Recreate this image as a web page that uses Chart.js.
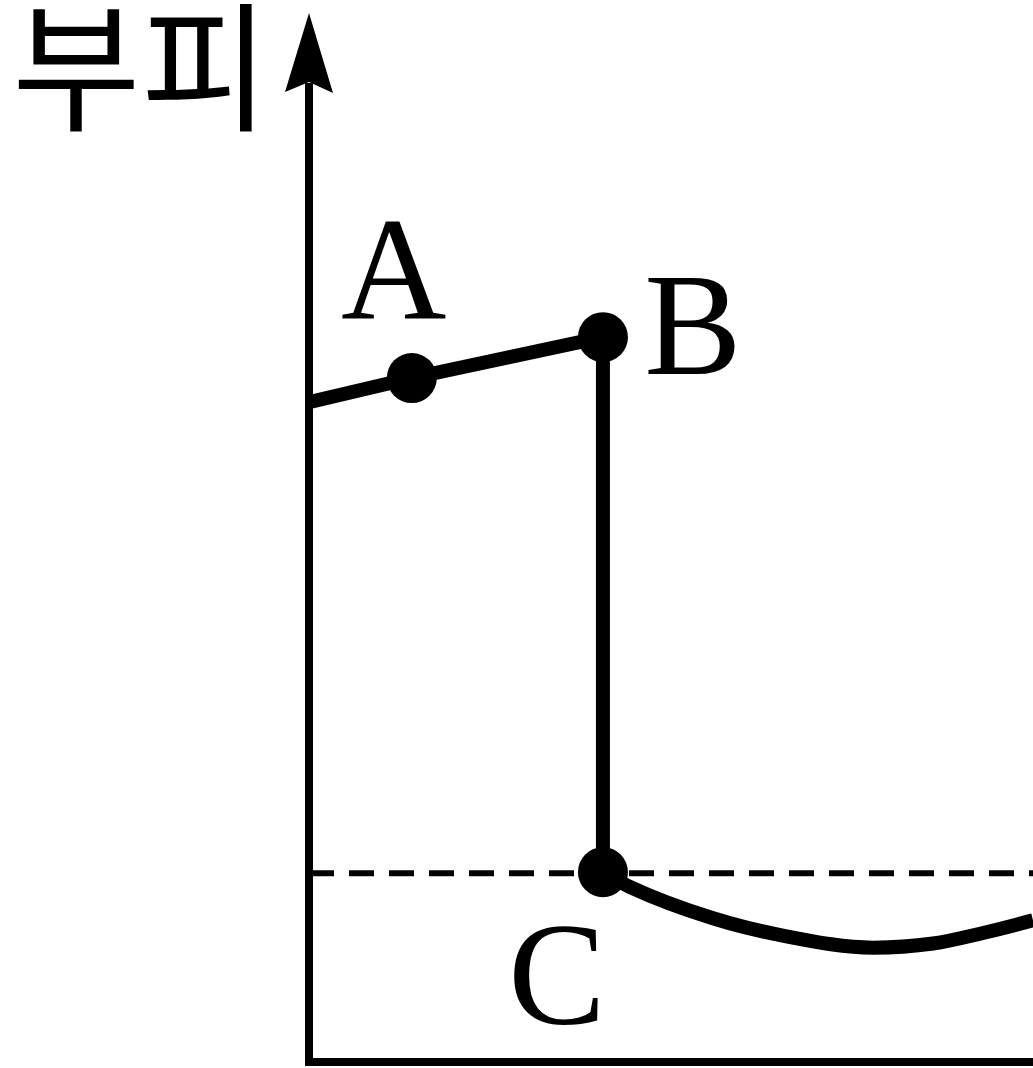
<!DOCTYPE html>
<html>
<head>
<meta charset="utf-8">
<script src="https://cdn.jsdelivr.net/npm/chart.js@4"></script>
<style>
  html, body { margin: 0; padding: 0; background: #fff; overflow: hidden; }
  #wrap { width: 1033px; height: 1068px; }
</style>
</head>
<body>
<div id="wrap"><canvas id="myChart"></canvas></div>
<script>
// values (x: 0..100 along the axis, y: 0..100 up the axis)
const pointLabels = ['A', 'B', 'C'];
const stageX = [0, 14.2, 40.6, 40.6];
const stageY = [62.9, 65.2, 69.1, 18.1];
const curveX = [40.6, 44.3, 55.8, 65.1, 77.9, 86.2, 93.1, 100];
const curveY = [18.1, 16.7, 13.7, 12.1, 10.9, 11.3, 12.3, 13.5];
const levelX = [0, 100];
const levelY = [18.0, 18.0];
const axisTitle = '부피';

const toPoints = (xs, ys) => xs.map((x, i) => ({ x: x, y: ys[i] }));

// axes with arrow, the title and the A/B/C letters
const diagramPlugin = {
    id: 'diagram',
    afterDatasetsDraw(chart) {
        let ctx = chart.ctx;
        let area = chart.chartArea;
        ctx.save();
        ctx.strokeStyle = '#000';
        ctx.fillStyle = '#000';
        ctx.lineWidth = 8;
        ctx.beginPath();
        ctx.moveTo(area.left, area.bottom + 4);
        ctx.lineTo(area.left, area.top + 70);
        ctx.moveTo(area.left - 4, area.bottom);
        ctx.lineTo(area.right, area.bottom);
        ctx.stroke();

        ctx.beginPath();
        ctx.moveTo(area.left, area.top);
        ctx.lineTo(area.left + 24, area.top + 80);
        ctx.lineTo(area.left, area.top + 69);
        ctx.lineTo(area.left - 24, area.top + 79);
        ctx.closePath();
        ctx.fill();

        ctx.font = '140px "Noto Sans CJK KR"';
        ctx.textAlign = 'left';
        ctx.textBaseline = 'middle';
        ctx.fillText(axisTitle, 12, 67);

        let meta = chart.getDatasetMeta(0);
        let offsets = [[-18, -102], [90, -5], [-46, 110]];
        ctx.font = '146px "Liberation Serif"';
        ctx.textAlign = 'center';
        pointLabels.forEach((label, i) => {
            let pt = meta.data[i + 1];
            ctx.fillText(label, pt.x + offsets[i][0], pt.y + offsets[i][1] + 4);
        });
        ctx.restore();
    }
};

let ctx = document.getElementById('myChart').getContext('2d');
let myChart = new Chart(ctx, {
    type: 'scatter',
    data: {
        datasets: [{
            label: 'stage',
            data: toPoints(stageX, stageY),
            showLine: true,
            borderColor: '#000',
            borderWidth: 14,
            backgroundColor: '#000',
            pointRadius: [0, 25, 25, 25],
            pointBorderWidth: 0,
            order: 1
        }, {
            label: 'curve',
            data: toPoints(curveX, curveY),
            showLine: true,
            borderColor: '#000',
            borderWidth: 14,
            pointRadius: 0,
            cubicInterpolationMode: 'monotone',
            order: 2
        }, {
            label: 'level',
            data: toPoints(levelX, levelY),
            showLine: true,
            borderColor: '#000',
            borderWidth: 6,
            borderDash: [25, 15],
            pointRadius: 0,
            order: 3
        }]
    },
    options: {
        responsive: true,
        maintainAspectRatio: false,
        animation: false,
        layout: {
            autoPadding: false,
            padding: { left: 309, right: 0, top: 13, bottom: 6 }
        },
        plugins: {
            legend: { display: false },
            tooltip: { enabled: false }
        },
        scales: {
            x: { type: 'linear', min: 0, max: 100, display: false },
            y: { type: 'linear', min: 0, max: 100, display: false }
        }
    },
    plugins: [diagramPlugin]
});
</script>
</body>
</html>
